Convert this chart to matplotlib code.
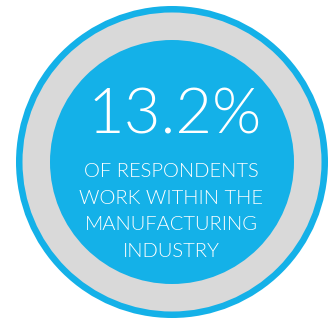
import matplotlib
matplotlib.use('Agg')
import matplotlib.pyplot as plt
from matplotlib.patches import Circle

share = 13.2
caption_lines = ['OF RESPONDENTS', 'WORK WITHIN THE', 'MANUFACTURING', 'INDUSTRY']

blue = '#14b1e8'
grey = '#d9d9d9'

fig = plt.figure(figsize=(3.35, 3.24), dpi=100)
ax = fig.add_axes([0, 0, 1, 1])
ax.set_xlim(0, 335)
ax.set_ylim(324, 0)
ax.axis('off')

# rings: outer blue rim, grey band, blue disc
cx, cy = 172, 162
ax.add_patch(Circle((cx, cy), 156, color=blue, lw=0))
ax.add_patch(Circle((cx, cy), 149.5, color=grey, lw=0))
ax.add_patch(Circle((cx, cy), 122, color=blue, lw=0))

ax.text(175, 133, '{:.1f}%'.format(share), color='white', fontsize=45.5,
        family='Lato', fontweight=300, ha='center', va='baseline')
for i, line in enumerate(caption_lines):
    ax.text(171, 177 + i * 26.6, line, color='white', fontsize=14.5,
            family='Lato', fontweight=300, ha='center', va='baseline')

fig.savefig('out.png', dpi=100)
